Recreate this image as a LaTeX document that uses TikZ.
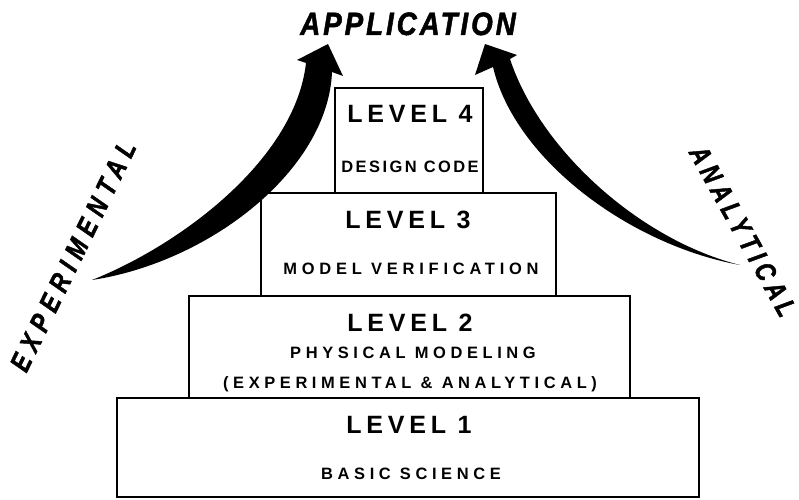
\documentclass[tikz,border=0pt]{standalone}
\usepackage{fontspec}
\setmainfont{Liberation Sans}
% letter-spaced text: #1 = extra space in thousandths of an em
\newcommand\tracked[2]{{\addfontfeature{LetterSpace=#1}#2}}
\begin{document}
\begin{tikzpicture}[x=0.025cm, y=-0.025cm,
  tier/.style={draw, line width=2pt, inner sep=0pt, outer sep=0pt},
  levelname/.style={font={\fontsize{17.8}{20}\selectfont\bfseries}, inner sep=0pt, anchor=base},
  tiertext/.style={font={\fontsize{11.7}{14}\selectfont\bfseries}, inner sep=0pt, anchor=base},
  handlabel/.style={font={\fontsize{20}{22}\selectfont\bfseries\itshape\addfontfeature{FakeStretch=0.8,FakeBold=1.5}}, inner sep=0pt},
  bigarrow/.style={fill=black}
]
\useasboundingbox (0,0) rectangle (799,499);

% the four tiers of the pyramid
\node[tier, minimum width=3.7cm,   minimum height=2.625cm] (lv4) at (409,140.5) {};
\node[tier, minimum width=7.375cm, minimum height=2.575cm] (lv3) at (408.5,244.5) {};
\node[tier, minimum width=11.025cm, minimum height=2.55cm] (lv2) at (409.5,347) {};
\node[tier, minimum width=14.55cm, minimum height=2.475cm] (lv1) at (408,447.5) {};

% tier labels
\node[levelname] (t4a) at (410,122) {\tracked{19}{LEVEL 4}};
\node[tiertext]  (t4b) at (410,172) {\tracked{15}{DESIGN CODE}};
\node[levelname] (t3a) at (408,228) {\tracked{19}{LEVEL 3}};
\node[tiertext]  (t3b) at (411,274) {\tracked{29}{MODEL VERIFICATION}};
\node[levelname] (t2a) at (410,331) {\tracked{19}{LEVEL 2}};
\node[tiertext]  (t2b) at (413,358) {\tracked{28}{PHYSICAL MODELING}};
\node[tiertext]  (t2c) at (410,388) {\tracked{28}{(EXPERIMENTAL \& ANALYTICAL)}};
\node[levelname] (t1a) at (409,433) {\tracked{19}{LEVEL 1}};
\node[tiertext]  (t1b) at (411,479) {\tracked{28}{BASIC SCIENCE}};

% heading
\node[font={\fontsize{23}{25}\selectfont\bfseries\itshape\addfontfeature{FakeStretch=0.86,LetterSpace=9,FakeBold=1.5}}, anchor=base, inner sep=0pt] (app) at (408,35) {APPLICATION};

% left sweeping arrow
\coordinate (ltail) at (92,280);
\fill[bigarrow] (ltail) .. controls (180,245) and (295,160) .. (306,63)
  -- (297,60) -- (328,44) -- (343,76) -- (332,72)
  .. controls (328,170) and (210,262) .. (ltail) -- cycle;

% right sweeping arrow
\coordinate (rtail) at (740,265);
\fill[bigarrow] (rtail) .. controls (640,240) and (540,150) .. (510,59)
  -- (517,55) -- (485,44) -- (475,75) -- (493,67)
  .. controls (515,160) and (630,245) .. (rtail) -- cycle;

% hand-lettered side captions
\node[handlabel, rotate=64] (exp) at (73,256) {\tracked{25}{EXPERIMENTAL}};
\node[handlabel, rotate=-61] (ana) at (743,231) {\tracked{19}{ANALYTICAL}};
\end{tikzpicture}
\end{document}
